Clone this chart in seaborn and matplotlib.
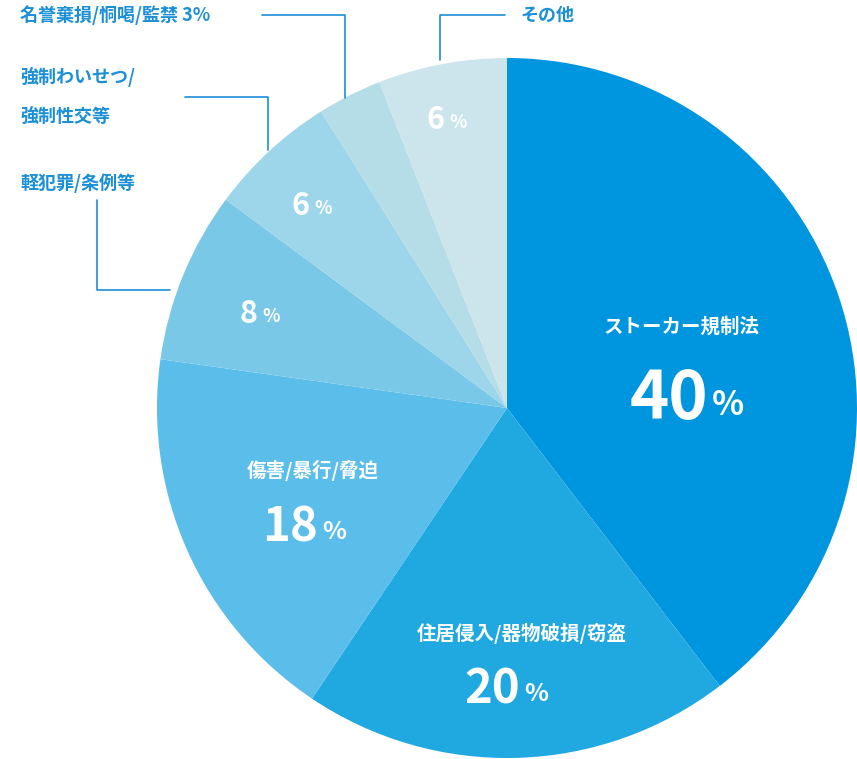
import matplotlib
matplotlib.use("Agg")
import matplotlib.pyplot as plt
import seaborn as sns

sns.set_theme(style="white")
plt.rcParams['font.family'] = ['Noto Sans CJK JP', 'DejaVu Sans']

categories = ["ストーカー規制法", "住居侵入/器物破損/窃盗", "傷害/暴行/脅迫", "軽犯罪/条例等",
              "強制わいせつ/\n強制性交等", "名誉棄損/恫喝/監禁", "その他"]
values = [40, 20, 18, 8, 6, 3, 6]
colors = ["#0096df", "#20a8e0", "#5bbdea", "#7ac8e8", "#9dd5ea", "#b5dde8", "#cce5ec"]

H = 759
fig = plt.figure(figsize=(8.57, 7.59), dpi=100)
ax = fig.add_axes([0, 0, 1, 1])

ax.pie(values, colors=colors, startangle=90, counterclock=False,
       center=(507, H - 408), radius=350, wedgeprops=dict(linewidth=0), frame=True)
ax.set_xlim(0, 857)
ax.set_ylim(0, H)
ax.set_aspect("equal")
ax.axis("off")

def Y(y):
    return H - y

def inside(x, y, pct, big, small):
    ax.text(x, Y(y), str(pct), color="white", fontsize=big, fontweight="bold",
            ha="right", va="center")
    ax.text(x + 4, Y(y + big * 0.12), "%", color="white", fontsize=small,
            fontweight="bold", ha="left", va="center")

ax.text(682, Y(327), categories[0], color="white", fontsize=14, fontweight="bold", ha="center", va="center")
inside(708, 400, values[0], 48, 24)
ax.text(522, Y(633), categories[1], color="white", fontsize=14, fontweight="bold", ha="center", va="center")
inside(520, 690, values[1], 34, 18)
ax.text(313, Y(470), categories[2], color="white", fontsize=14, fontweight="bold", ha="center", va="center")
inside(318, 528, values[2], 34, 18)
inside(258, 314, values[3], 22, 13)
inside(310, 206, values[4], 22, 13)
inside(445, 120, values[6], 22, 13)

blue = "#1b8fd8"
def leader(pts):
    ax.plot([p[0] for p in pts], [Y(p[1]) for p in pts], color=blue, lw=1.2)

leader([(262, 15), (345, 15), (345, 98)])
ax.text(20, Y(15), f"{categories[5]} {values[5]}%", color=blue, fontsize=13, fontweight="bold", ha="left", va="center")
leader([(185, 97), (268, 97), (268, 150)])
ax.text(20, Y(77), "強制わいせつ/", color=blue, fontsize=13, fontweight="bold", ha="left", va="center")
ax.text(20, Y(116), "強制性交等", color=blue, fontsize=13, fontweight="bold", ha="left", va="center")
leader([(97, 200), (97, 290), (170, 290)])
ax.text(20, Y(183), categories[3], color=blue, fontsize=13, fontweight="bold", ha="left", va="center")
leader([(505, 15), (440, 15), (440, 60)])
ax.text(520, Y(15), categories[6], color=blue, fontsize=13, fontweight="bold", ha="left", va="center")

fig.savefig("out.png", dpi=100, facecolor="white")
